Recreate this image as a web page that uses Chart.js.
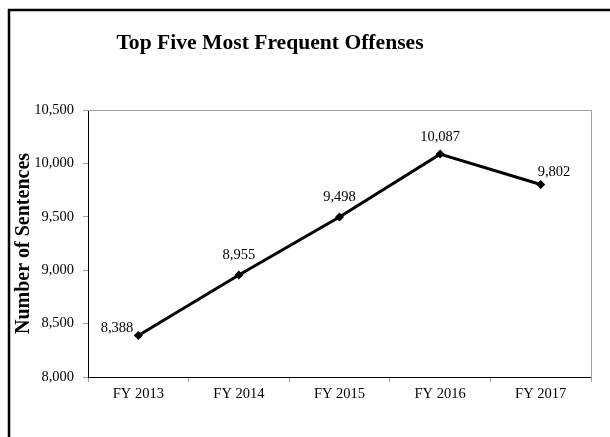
<!DOCTYPE html>
<html>
<head>
<meta charset="utf-8">
<script src="https://cdn.jsdelivr.net/npm/chart.js@4"></script>
<style>
  html, body { margin: 0; padding: 0; background: #fff; }
  #wrap { width: 610px; height: 437px; position: relative; }
</style>
</head>
<body>
<div id="wrap"><canvas id="chart"></canvas></div>
<script>
// datos
const years = ["FY 2013", "FY 2014", "FY 2015", "FY 2016", "FY 2017"];
const sentences = [8388, 8955, 9498, 10087, 9802];
const yTicks = [8000, 8500, 9000, 9500, 10000, 10500];
const chartTitle = "Top Five Most Frequent Offenses";

// donde va cada etiqueta respecto a su punto: [dx, dy, align]
const labelPos = [[-5, -7, "right"], [0, -20, "center"], [0, -20, "center"], [0, -17, "center"], [-3, -12, "left"]];

const SERIF = "'Liberation Serif', 'Times New Roman', serif";
const fmt = (v) => v.toLocaleString("en-US");

// marco exterior (solo arriba e izquierda), borde gris del area y titulo
const framePlugin = {
  id: "frame",
  beforeDatasetsDraw(chart) {
    const { ctx, chartArea: a } = chart;
    ctx.save();
    ctx.strokeStyle = "#a0a0a0";
    ctx.lineWidth = 1;
    ctx.beginPath();
    ctx.moveTo(a.left, a.top + 0.5);
    ctx.lineTo(a.right + 0.5, a.top + 0.5);
    ctx.lineTo(a.right + 0.5, a.bottom + 5);
    ctx.stroke();
    ctx.restore();
  },
  afterDraw(chart) {
    const { ctx } = chart;
    ctx.save();
    ctx.strokeStyle = "#000";
    ctx.lineWidth = 2.5;
    ctx.beginPath();
    ctx.moveTo(610, 10);
    ctx.lineTo(9, 10);
    ctx.lineTo(9, 437);
    ctx.stroke();

    // el titulo no va centrado en el lienzo, va un poco a la izquierda
    ctx.font = "bold 21.6px " + SERIF;
    ctx.fillStyle = "#000";
    ctx.textAlign = "center";
    ctx.textBaseline = "middle";
    ctx.fillText(chartTitle, 270, 43);
    ctx.restore();
  }
};

const labelPlugin = {
  id: "pointLabels",
  afterDatasetsDraw(chart) {
    const { ctx } = chart;
    const meta = chart.getDatasetMeta(0);
    ctx.save();
    ctx.font = "14.5px " + SERIF;
    ctx.fillStyle = "#000";
    ctx.textBaseline = "middle";
    meta.data.forEach((pt, i) => {
      const [dx, dy, align] = labelPos[i];
      ctx.textAlign = align;
      ctx.fillText(fmt(sentences[i]), pt.x + dx, pt.y + dy);
    });
    ctx.restore();
  }
};

new Chart(document.getElementById("chart"), {
  type: "line",
  data: {
    labels: years,
    datasets: [{
      data: sentences,
      borderColor: "#000",
      backgroundColor: "#000",
      borderWidth: 3,
      pointStyle: "rectRot",
      pointRadius: 4.5,
      pointBorderWidth: 0,
      tension: 0
    }]
  },
  options: {
    responsive: true,
    maintainAspectRatio: false,
    animation: false,
    layout: { padding: { left: 10, right: 19, top: 110, bottom: 0 } },
    plugins: {
      legend: { display: false },
      tooltip: { enabled: false },
      title: { display: false }
    },
    scales: {
      x: {
        offset: true,
        grid: { offset: true, drawOnChartArea: false, drawTicks: true, tickLength: 5, color: "#a0a0a0" },
        border: { color: "#000", width: 1 },
        ticks: { color: "#000", font: { family: SERIF, size: 14.5 }, padding: 3, maxRotation: 0 },
        afterFit(s) { s.height = 60; }
      },
      y: {
        min: 8000,
        max: 10500,
        afterBuildTicks(s) { s.ticks = yTicks.map(v => ({ value: v })); },
        grid: { drawOnChartArea: false, drawTicks: true, tickLength: 5, color: "#a0a0a0" },
        border: { color: "#000", width: 1 },
        ticks: { color: "#000", font: { family: SERIF, size: 14.5 }, padding: 9, callback: (v) => fmt(v) },
        title: {
          display: true,
          text: "Number of Sentences",
          color: "#000",
          font: { family: SERIF, size: 20, weight: "bold" },
          padding: { top: 2, bottom: 0 }
        },
        afterFit(s) { s.width = 78; }
      }
    }
  },
  plugins: [framePlugin, labelPlugin]
});
</script>
</body>
</html>
